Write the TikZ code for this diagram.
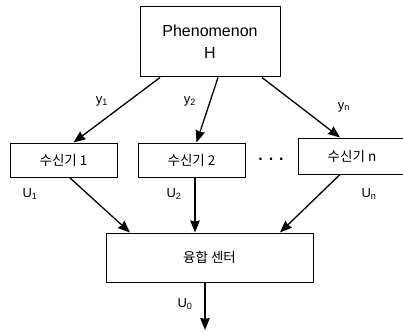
\documentclass[tikz,border=0pt]{standalone}
\usepackage{fontspec}
\setmainfont{Liberation Sans}
\newfontfamily\krfont{Noto Sans CJK KR}
\usetikzlibrary{arrows.meta}

\begin{document}
\begin{tikzpicture}[x=1pt, y=-1pt, >={Stealth[length=12pt, width=9.5pt, inset=1pt]},
    box/.style={draw, line width=1pt, inner sep=0pt},
    rxbox/.style={box, minimum width=107pt, minimum height=34pt, font=\krfont\fontsize{13.5}{13.5}\selectfont},
    lbl/.style={font=\fontsize{13}{13}\selectfont, inner sep=1pt}]
    \useasboundingbox (0,0) rectangle (403,331);

    % Nodes
    \node[box, minimum width=140pt, minimum height=70pt, align=center,
          font=\fontsize{16}{22}\selectfont] (phen) at (210,42) {Phenomenon\\H};
    \node[rxbox] (rx1) at (63.5,160) {수신기 1};
    \node[rxbox] (rx2) at (191.5,160) {수신기 2};
    \node[rxbox, minimum height=36pt] (rxn) at (352,156) {수신기 n};
    \node[font=\bfseries\fontsize{16}{16}\selectfont] (dots) at (271,159) {. . .};
    \node[box, minimum width=207pt, minimum height=49pt,
          font=\krfont\fontsize{13.5}{13.5}\selectfont] (fus) at (209.5,257.5) {융합 센터};
    \coordinate (out) at (205,330);

    % Edges from phenomenon to receivers
    \draw[->, line width=1.3pt] ([xshift=-50pt]phen.south) -- ([xshift=10pt]rx1.north);
    \draw[->, line width=1.3pt] ([xshift=8pt]phen.south) -- ([xshift=5pt]rx2.north);
    \draw[->, line width=1.3pt] ([xshift=52pt]phen.south) -- ([xshift=-12pt]rxn.north);

    % Edges from receivers to fusion center
    \draw[->, line width=1.3pt] ([xshift=6pt]rx1.south) -- ([xshift=-79.5pt]fus.north);
    \draw[->, line width=1.3pt] ([xshift=3.5pt]rx2.south) -- ([xshift=-14.5pt]fus.north);
    \draw[->, line width=1.3pt] ([xshift=-12pt]rxn.south) -- ([xshift=70.5pt]fus.north);
    \draw[->, line width=1.3pt] ([xshift=-4.5pt]fus.south) -- (out);

    % Labels
    \node[lbl] (ly1) at (102,101) {y\textsubscript{1}};
    \node[lbl] (ly2) at (190,101) {y\textsubscript{2}};
    \node[lbl] (lyn) at (344,107) {y\textsubscript{n}};
    \node[lbl] (lu1) at (30,194) {U\textsubscript{1}};
    \node[lbl] (lu2) at (174,194) {U\textsubscript{2}};
    \node[lbl] (lun) at (369,194) {U\textsubscript{n}};
    \node[lbl] (lu0) at (185,304) {U\textsubscript{0}};
\end{tikzpicture}
\end{document}
